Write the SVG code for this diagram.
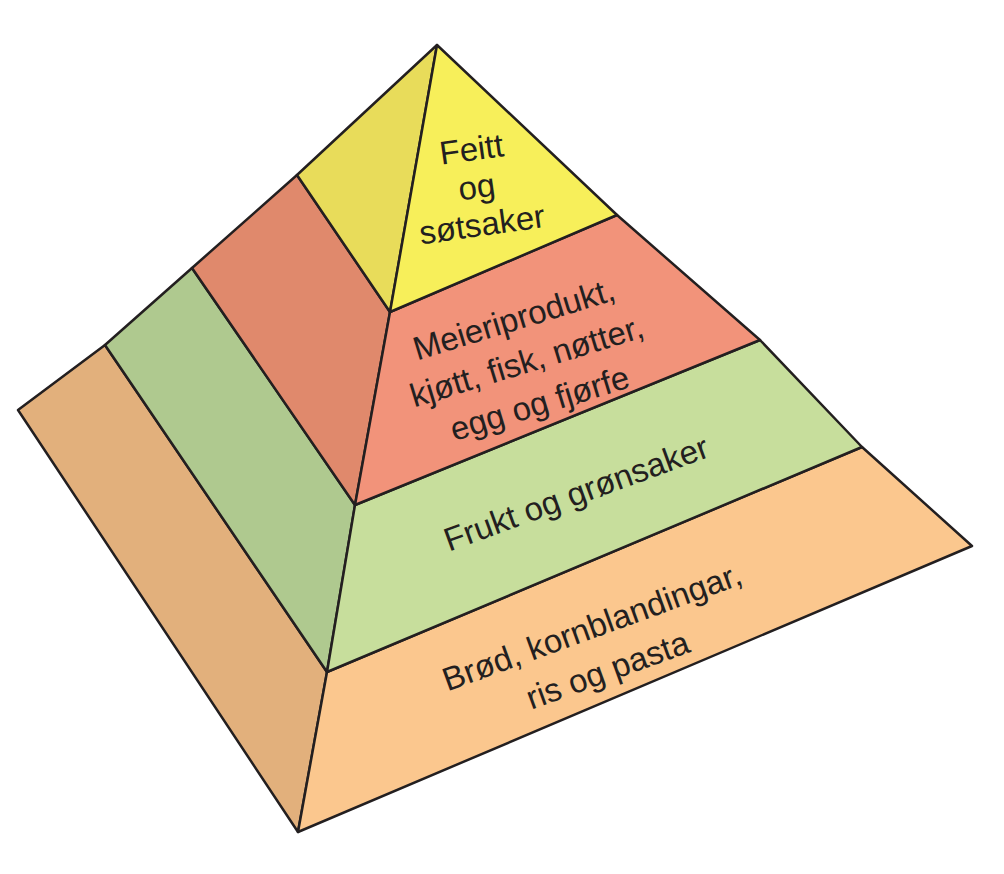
<svg xmlns="http://www.w3.org/2000/svg" width="1004" height="874" viewBox="0 0 1004 874">
<style>
polygon{stroke:#231f20;stroke-width:2.5;stroke-linejoin:round}
text{font-family:"Liberation Sans",Arial,sans-serif;font-size:33px;fill:#231f20;text-anchor:middle}
</style>
<rect width="1004" height="874" fill="#fff"/>
<g id="left-face">
<polygon points="18,410 105,345 327,672 298,832" fill="#e2b07c"/>
<polygon points="105,345 192,268 355,505 327,672" fill="#afc98f"/>
<polygon points="192,268 297,175 390,312 355,505" fill="#e0896c"/>
<polygon points="297,175 437,45 390,312" fill="#e8dc5a"/>
</g>
<g id="front-face">
<polygon points="298,832 327,672 862,447 972,546" fill="#fbc78e"/>
<polygon points="327,672 355,505 760,340 862,447" fill="#c7de9c"/>
<polygon points="355,505 390,312 617,215 760,340" fill="#f2937a"/>
<polygon points="390,312 437,45 617,215" fill="#f7ef5a"/>
</g>
<g id="labels">
<g transform="translate(478,196) rotate(-8)">
<text y="-36">Feitt</text><text y="2">og</text><text y="40">søtsaker</text>
</g>
<g transform="translate(530,372) rotate(-17)">
<text y="-44">Meieriprodukt,</text><text y="0">kjøtt, fisk, nøtter,</text><text y="44">egg og fjørfe</text>
</g>
<text transform="translate(580,504) rotate(-20)">Frukt og grønsaker</text>
<g transform="translate(604,660) rotate(-20)">
<text y="-24">Brød, kornblandingar,</text><text y="22">ris og pasta</text>
</g>
</g>
</svg>
